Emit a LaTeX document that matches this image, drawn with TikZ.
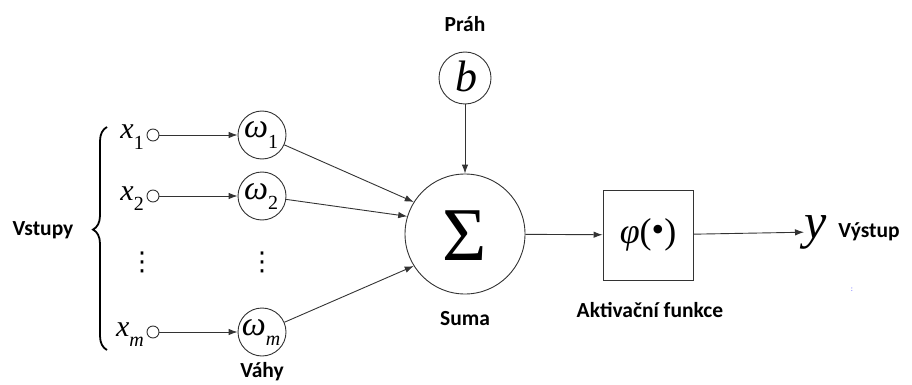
\documentclass[tikz,border=0pt]{standalone}
\usepackage{fontspec}
\setmainfont{Carlito}
\newfontfamily\mf{Liberation Serif}
\newfontfamily\dv{DejaVu Sans}
\usetikzlibrary{arrows.meta,decorations.pathreplacing}
\newcommand{\sbx}[2]{{\mf\itshape #1}\raisebox{-0.36em}{\fontsize{20}{22}\selectfont\mf #2}}
\newcommand{\sbw}[2]{{\mf\itshape #1}\raisebox{-0.3em}{\fontsize{20}{22}\selectfont\mf #2}}
\tikzset{
  lbl/.style={font=\fontsize{21.5}{24}\selectfont\bfseries},
  wcirc/.style={circle,draw=black!80,line width=0.9pt,minimum size=48pt,inner sep=0pt},
  incirc/.style={circle,draw=black!80,line width=0.9pt,minimum size=12pt,inner sep=0pt},
  conn/.style={draw=black!80,line width=0.9pt},
  arr/.style={conn,-{Latex[length=9pt,width=6.5pt]}},
  mth/.style={inner sep=0pt,font=\fontsize{30}{32}\selectfont},
  vdt/.style={inner sep=0pt,font=\fontsize{26}{28}\selectfont\dv}
}
\begin{document}
\begin{tikzpicture}[x=1pt,y=-1pt]
\useasboundingbox (0,0) rectangle (912,385);
% labels
\node[lbl] (vst) at (43,230) {Vstupy};
\node[lbl] (vah) at (262,372) {Váhy};
\node[lbl] (prah) at (465,24) {Práh};
\node[lbl] (suma) at (465,319) {Suma};
\node[lbl] (akt) at (650,310) {Aktivační funkce};
\node[lbl] (vys) at (869,232) {Výstup};
% brace
\coordinate (bb) at (107,350);
\coordinate (bt) at (107,127);
\draw[line width=1.8pt,decorate,decoration={brace,amplitude=14pt,aspect=0.54}] (bb) -- (bt);
% inputs
\node[incirc] (i1) at (153,135) {};
\node[incirc] (i2) at (153,196) {};
\node[incirc] (im) at (153,332) {};
\node[mth,anchor=base east] (x1) at (144,139) {\sbx{x}{1}};
\node[mth,anchor=base east] (x2) at (144,200) {\sbx{x}{2}};
\node[mth,anchor=base east] (xm) at (144,336) {\sbx{x}{\itshape m}};
\node[vdt] (d1) at (142,262) {⋮};
\node[vdt] (d2) at (262,262) {⋮};
% weights
\node[wcirc] (w1) at (262,135) {};
\node[wcirc] (w2) at (262,196) {};
\node[wcirc] (wm) at (262,332) {};
\node[mth,anchor=base,font=\fontsize{34}{36}\selectfont] at (261,138) {\sbw{ω}{1}};
\node[mth,anchor=base,font=\fontsize{34}{36}\selectfont] at (261,199) {\sbw{ω}{2}};
\node[mth,anchor=base,font=\fontsize{34}{36}\selectfont] at (261,335) {\sbw{ω}{\itshape m}};
\draw[arr] (i1) -- (w1);
\draw[arr] (i2) -- (w2);
\draw[arr] (im) -- (wm);
% sum
\node[circle,draw=black!80,line width=0.9pt,minimum size=120pt,inner sep=0pt] (s) at (465,234) {};
\node[inner sep=0pt,font=\fontsize{76}{80}\selectfont\mf] at (465,236) {Σ};
\node[circle,draw=black!80,line width=0.9pt,minimum size=52pt,inner sep=0pt] (b) at (465,78) {};
\node[inner sep=0pt,font=\fontsize{44}{46}\selectfont\mf\itshape] at (466,76) {b};
\draw[arr] (b) -- (s);
\draw[arr] (w1) -- (s.148);
\draw[arr] (w2) -- (s.163);
\draw[arr] (wm) -- (s.212);
% activation
\node[draw=black!80,line width=0.9pt,minimum size=90pt,inner sep=0pt] (f) at (648,235) {\fontsize{36}{38}\selectfont\mf\itshape φ\upshape(\raisebox{0.05em}{•})};
\draw[arr] (s) -- (f);
\node[inner sep=0pt,anchor=west] (y) at (804,232) {\fontsize{50}{52}\selectfont\mf\itshape y};
\draw[arr] (f) -- (y);
\node[inner sep=0pt,text=blue!60,font=\fontsize{8}{8}\selectfont] (dot) at (852,290) {:};
\end{tikzpicture}
\end{document}
